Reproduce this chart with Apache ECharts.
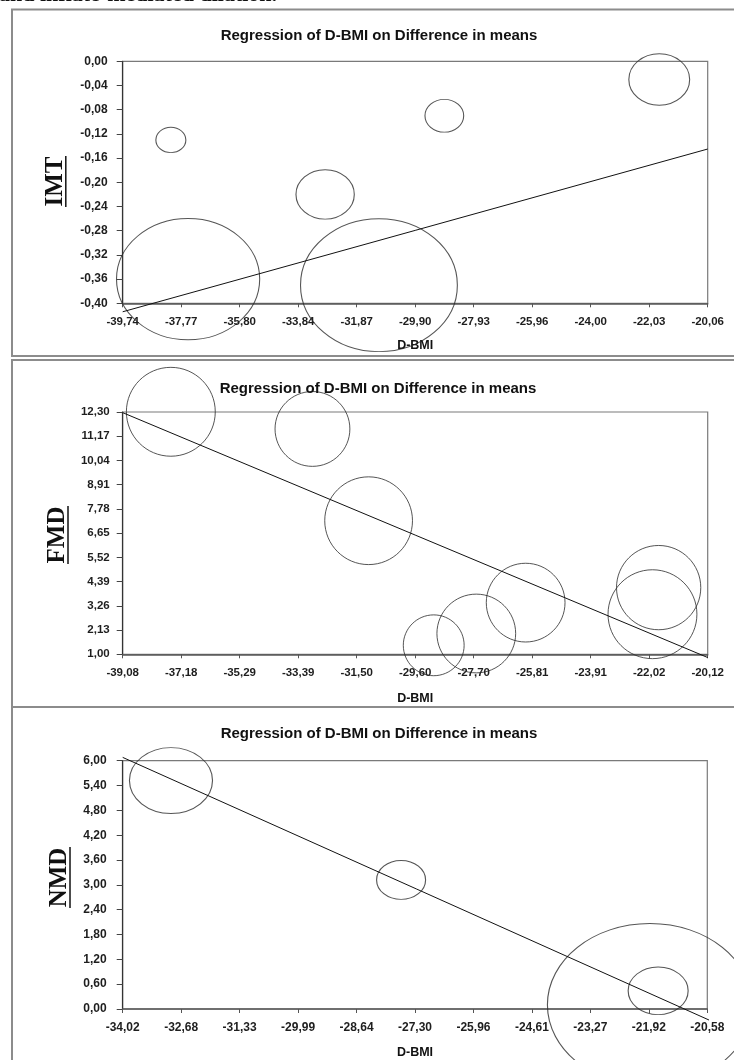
<!DOCTYPE html>
<html>
<head>
<meta charset="utf-8">
<script src="https://cdn.jsdelivr.net/npm/echarts@6/dist/echarts.min.js"></script>
<style>
  html, body { margin: 0; padding: 0; background: #ffffff; }
  #chart { width: 734px; height: 1060px; }
</style>
</head>
<body>
<div id="chart"></div>
<script>
// ---- IMT panel ----
const imtXRange = [-39.74, -20.06];
const imtYRange = [-0.40, 0.00];
const imtXTicks = ['-39,74', '-37,77', '-35,80', '-33,84', '-31,87', '-29,90', '-27,93', '-25,96', '-24,00', '-22,03', '-20,06'];
const imtYTicks = ['-0,40', '-0,36', '-0,32', '-0,28', '-0,24', '-0,20', '-0,16', '-0,12', '-0,08', '-0,04', '0,00'];
const imtBmi = [-38.12, -28.92, -32.93, -21.69, -37.54, -31.12];
const imtDiff = [-0.13, -0.09, -0.22, -0.03, -0.36, -0.37];
const imtWeight = [9, 15, 34, 37, 205, 246];
const imtFitX = [-39.74, -20.06];
const imtFitY = [-0.414, -0.145];

// ---- FMD panel ----
const fmdXRange = [-39.08, -20.12];
const fmdYRange = [1.00, 12.30];
const fmdXTicks = ['-39,08', '-37,18', '-35,29', '-33,39', '-31,50', '-29,60', '-27,70', '-25,81', '-23,91', '-22,02', '-20,12'];
const fmdYTicks = ['1,00', '2,13', '3,26', '4,39', '5,52', '6,65', '7,78', '8,91', '10,04', '11,17', '12,30'];
const fmdBmi = [-37.52, -32.93, -31.11, -29.00, -27.62, -26.02, -21.71, -21.91];
const fmdDiff = [12.31, 11.51, 7.23, 1.42, 1.97, 3.41, 4.11, 2.87];
const fmdWeight = [79, 56, 77, 37, 62, 62, 71, 79];
const fmdFitX = [-39.08, -20.12];
const fmdFitY = [12.27, 0.85];

// ---- NMD panel ----
const nmdXRange = [-34.02, -20.58];
const nmdYRange = [0.00, 6.00];
const nmdXTicks = ['-34,02', '-32,68', '-31,33', '-29,99', '-28,64', '-27,30', '-25,96', '-24,61', '-23,27', '-21,92', '-20,58'];
const nmdYTicks = ['0,00', '0,60', '1,20', '1,80', '2,40', '3,00', '3,60', '4,20', '4,80', '5,40', '6,00'];
const nmdBmi = [-32.91, -27.62, -21.71, -21.90];
const nmdDiff = [5.52, 3.12, 0.44, 0.10];
const nmdWeight = [69, 24, 36, 420];
const nmdFitX = [-34.02, -20.13];
const nmdFitY = [6.08, -0.46];

const titleText = 'Regression of D-BMI on Difference in means';
const xName = 'D-BMI';
const captionTail = 'and inflate-mediated dilation.';

const SANS = 'Arial, "Liberation Sans", Helvetica, sans-serif';
const SERIF = '"Times New Roman", "Liberation Serif", serif';
const ELLIPSE = 'path://M0,50C0,22.4 22.4,0 50,0C77.6,0 100,22.4 100,50C100,77.6 77.6,100 50,100C22.4,100 0,77.6 0,50Z';

const panels = [
  {
    name: 'IMT', xRange: imtXRange, yRange: imtYRange, xTicks: imtXTicks, yTicks: imtYTicks,
    xs: imtBmi, ys: imtDiff, ws: imtWeight, fitX: imtFitX, fitY: imtFitY,
    grid: { left: 122.7, top: 61.3, width: 585, height: 242 },
    bubbleScale: 10, aspect: 1.18,
    title: [379, 36], yName: [55.3, 181.5, 25.5, 65.8],
    xNameGap: 36, xLabelSize: 11.5, yLabelSize: 12, xLabelMargin: 13, yLabelMargin: 15,
    frame: [12, 9.5, 760, 356]
  },
  {
    name: 'FMD', xRange: fmdXRange, yRange: fmdYRange, xTicks: fmdXTicks, yTicks: fmdYTicks,
    xs: fmdBmi, ys: fmdDiff, ws: fmdWeight, fitX: fmdFitX, fitY: fmdFitY,
    grid: { left: 122.7, top: 412, width: 585, height: 242.3 },
    bubbleScale: 10, aspect: 1.0,
    title: [378, 389], yName: [57.6, 535, 29, 68],
    xNameGap: 38, xLabelSize: 11.5, yLabelSize: 11.5, xLabelMargin: 13, yLabelMargin: 13,
    frame: [12, 360, 760, 707]
  },
  {
    name: 'NMD', xRange: nmdXRange, yRange: nmdYRange, xTicks: nmdXTicks, yTicks: nmdYTicks,
    xs: nmdBmi, ys: nmdDiff, ws: nmdWeight, fitX: nmdFitX, fitY: nmdFitY,
    grid: { left: 122.7, top: 760.7, width: 584.6, height: 251.6 },
    bubbleScale: 10, aspect: 1.26,
    title: [379, 734], yName: [59.6, 877.5, 30.5, 70],
    xNameGap: 37, xLabelSize: 12, yLabelSize: 12, xLabelMargin: 12.5, yLabelMargin: 16,
    frame: [12, 707, 760, 1100]
  }
];

function tickFormatter(range, labels) {
  const step = (range[1] - range[0]) / (labels.length - 1);
  return function (value) {
    const i = Math.round((value - range[0]) / step);
    return labels[Math.max(0, Math.min(labels.length - 1, i))];
  };
}

const grid = [], xAxis = [], yAxis = [], series = [], graphic = [];

// tail of the running caption above the figure
graphic.push({
  type: 'text', x: -1, y: 6, silent: true, z: 5,
  style: { text: captionTail, fontFamily: SERIF, fontWeight: 'bold', fontSize: 22,
           fill: '#111', align: 'left', verticalAlign: 'bottom' }
});

panels.forEach(function (p, k) {
  grid.push(Object.assign({ show: true, borderColor: '#7a7a7a', borderWidth: 1.2, backgroundColor: 'transparent' }, p.grid));

  const xInt = +((p.xRange[1] - p.xRange[0]) / (p.xTicks.length - 1)).toFixed(6);
  const yInt = +((p.yRange[1] - p.yRange[0]) / (p.yTicks.length - 1)).toFixed(6);

  xAxis.push({
    type: 'value', gridIndex: k, min: p.xRange[0], max: p.xRange[1], interval: xInt,
    name: xName, nameLocation: 'middle', nameGap: p.xNameGap,
    nameTextStyle: { fontFamily: SANS, fontWeight: 'bold', fontSize: 12.5, color: '#111' },
    axisLine: { show: true, onZero: false, lineStyle: { color: '#555', width: 1.5 } },
    axisTick: { show: true, length: 4, lineStyle: { color: '#555', width: 1 } },
    axisLabel: { fontFamily: SANS, fontWeight: 'bold', fontSize: p.xLabelSize, color: '#1e1e1e',
                 margin: p.xLabelMargin, showMinLabel: true, showMaxLabel: true,
                 formatter: tickFormatter(p.xRange, p.xTicks) },
    splitLine: { show: false }
  });
  yAxis.push({
    type: 'value', gridIndex: k, min: p.yRange[0], max: p.yRange[1], interval: yInt,
    axisLine: { show: true, onZero: false, lineStyle: { color: '#333', width: 1.2 } },
    axisTick: { show: true, length: 6, lineStyle: { color: '#444', width: 1 } },
    axisLabel: { fontFamily: SANS, fontWeight: 'bold', fontSize: p.yLabelSize, color: '#1e1e1e',
                 margin: p.yLabelMargin, showMinLabel: true, showMaxLabel: true,
                 formatter: tickFormatter(p.yRange, p.yTicks) },
    splitLine: { show: false }
  });

  const pts = p.xs.map(function (x, i) { return [x, p.ys[i], p.ws[i]]; });
  const scale = p.bubbleScale, aspect = p.aspect;
  series.push({
    type: 'scatter', xAxisIndex: k, yAxisIndex: k, data: pts, clip: false, silent: true,
    symbol: ELLIPSE,
    symbolSize: function (v) { const d = scale * Math.sqrt(v[2]); return [d, d / aspect]; },
    itemStyle: { color: 'rgba(0,0,0,0)', borderColor: '#2a2a2a', borderWidth: 1 },
    emphasis: { disabled: true }, z: 3
  });
  series.push({
    type: 'line', xAxisIndex: k, yAxisIndex: k, clip: false, silent: true,
    data: p.fitX.map(function (x, i) { return [x, p.fitY[i]]; }),
    showSymbol: false, symbol: 'none',
    lineStyle: { color: '#111', width: 1 }, emphasis: { disabled: true }, z: 4
  });

  // panel frame
  graphic.push({
    type: 'rect', z: 0, silent: true,
    shape: { x: p.frame[0], y: p.frame[1], width: p.frame[2] - p.frame[0], height: p.frame[3] - p.frame[1] },
    style: { fill: null, stroke: '#8c8c8c', lineWidth: 2 }
  });
  // panel title
  graphic.push({
    type: 'text', x: p.title[0], y: p.title[1], silent: true, z: 5,
    style: { text: titleText, fontFamily: SANS, fontWeight: 'bold', fontSize: 15,
             fill: '#111', align: 'center', verticalAlign: 'middle' }
  });
  // vertical outcome name with underline
  graphic.push({
    type: 'text', x: p.yName[0], y: p.yName[1], rotation: Math.PI / 2, silent: true, z: 5,
    style: { text: p.name, fontFamily: SERIF, fontWeight: 'bold', fontSize: 25,
             fill: '#111', align: 'center', verticalAlign: 'middle' }
  });
  graphic.push({
    type: 'line', silent: true, z: 5,
    shape: { x1: p.yName[3], y1: p.yName[1] - p.yName[2], x2: p.yName[3], y2: p.yName[1] + p.yName[2] },
    style: { stroke: '#111', lineWidth: 1.5 }
  });
});

const chart = echarts.init(document.getElementById('chart'), null, { renderer: 'canvas' });
chart.setOption({
  animation: false,
  backgroundColor: '#ffffff',
  grid: grid,
  xAxis: xAxis,
  yAxis: yAxis,
  series: series,
  graphic: graphic
});
</script>
</body>
</html>
